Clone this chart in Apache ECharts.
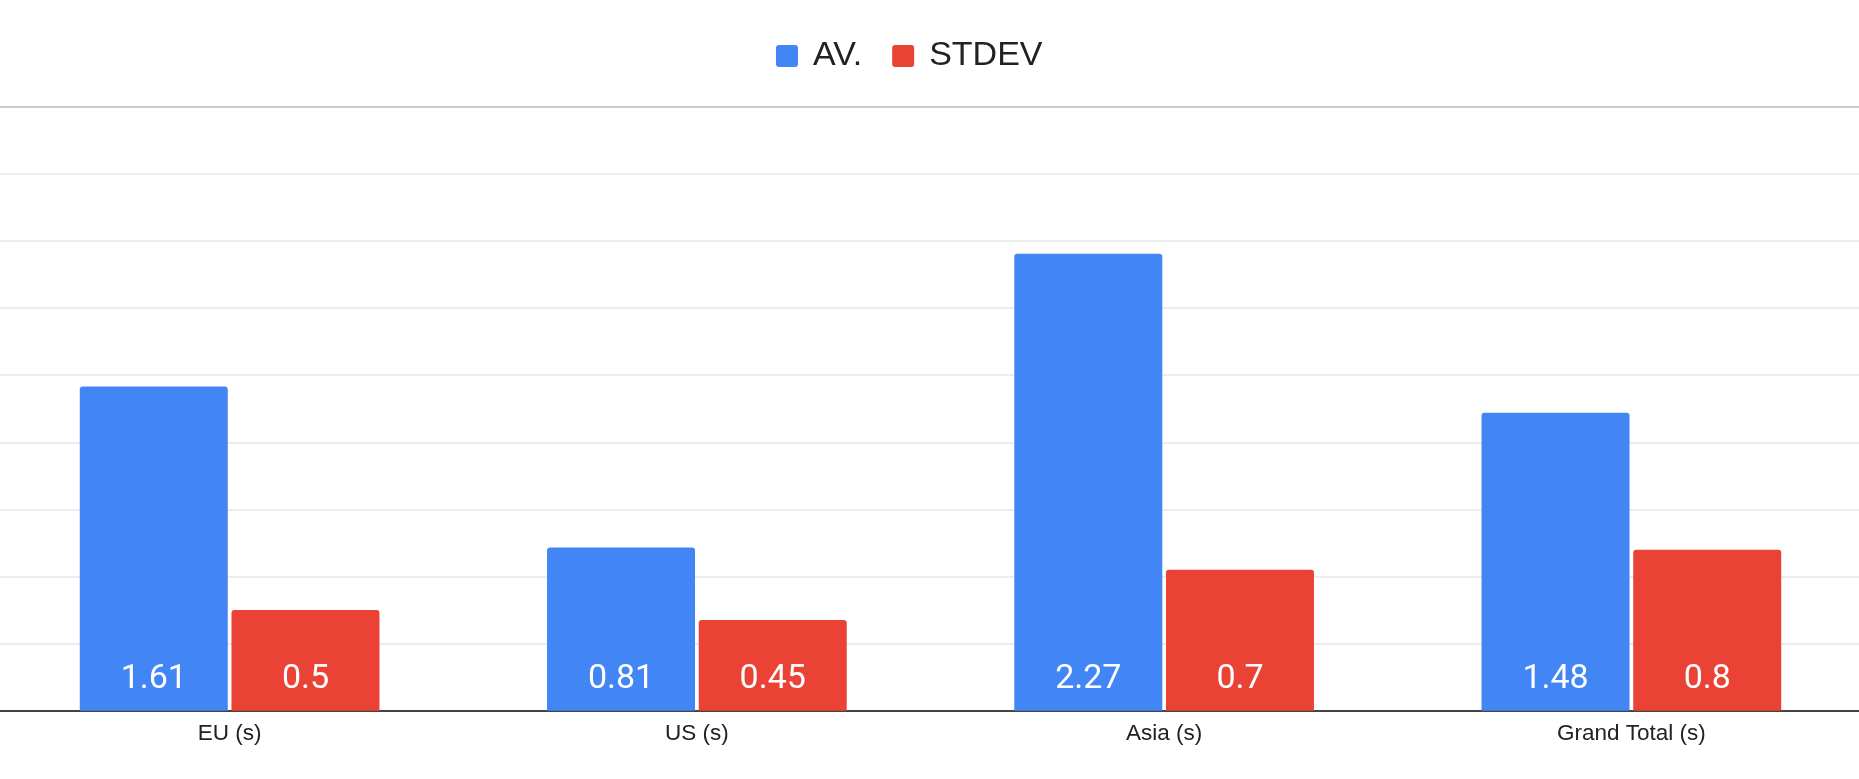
<!DOCTYPE html>
<html>
<head>
<meta charset="utf-8">
<script src="https://cdn.jsdelivr.net/npm/echarts@6/dist/echarts.min.js"></script>
<style>
html,body{margin:0;padding:0;background:#fff;overflow:hidden;width:1859px;height:779px;}
#chart{width:1869px;height:779px;margin-left:-4px;}
</style>
</head>
<body>
<div id="chart"></div>
<script>
const categories = ['EU (s)', 'US (s)', 'Asia (s)', 'Grand Total (s)'];
const avValues = [1.61, 0.81, 2.27, 1.48];
const stdevValues = [0.5, 0.45, 0.7, 0.8];
const seriesNames = ['AV.', 'STDEV'];

const chart = echarts.init(document.getElementById('chart'));
const gridColors = [];
for (let i = 0; i < 9; i++) gridColors.push('#e6e6e6');
gridColors.push('#cccccc');

const labelCfg = {
  show: true,
  position: 'insideBottom',
  distance: 14,
  color: '#ffffff',
  fontFamily: 'Roboto',
  fontSize: 34
};

const iconPath = 'path://M3,0 H19 A3,3 0 0 1 22,3 V19 A3,3 0 0 1 19,22 H3 A3,3 0 0 1 0,19 V3 A3,3 0 0 1 3,0 Z';

chart.setOption({
  animation: false,
  backgroundColor: '#ffffff',
  legend: {
    top: 34,
    left: 775,
    icon: iconPath,
    itemWidth: 22,
    itemHeight: 22,
    itemGap: 30,
    textStyle: { fontFamily: 'Liberation Sans', fontSize: 34, color: '#222222', padding: [0, 0, 0, 10] },
    data: seriesNames
  },
  grid: { left: 0, right: 0, top: 106.7, bottom: 68.3, containLabel: false },
  xAxis: [{
    type: 'category',
    data: categories,
    axisLine: { lineStyle: { color: '#444444', width: 2 } },
    axisTick: { show: false },
    axisLabel: { color: '#222222', fontFamily: 'Liberation Sans', fontSize: 22.5, margin: 12 }
  }, {
    type: 'category',
    data: categories,
    position: 'top',
    axisLine: { show: true, lineStyle: { color: '#cccccc', width: 2 } },
    axisTick: { show: false },
    axisLabel: { show: false }
  }],
  yAxis: {
    type: 'value',
    min: 0,
    max: 3,
    interval: 1 / 3,
    axisLabel: { show: false },
    axisLine: { show: false },
    axisTick: { show: false },
    splitLine: { lineStyle: { color: gridColors, width: 1.5 } }
  },
  series: [{
    name: seriesNames[0],
    type: 'bar',
    data: avValues,
    barWidth: 148,
    barGap: '2.5%',
    itemStyle: { color: '#4285F4', borderRadius: [3, 3, 0, 0] },
    label: labelCfg
  }, {
    name: seriesNames[1],
    type: 'bar',
    data: stdevValues,
    barWidth: 148,
    barGap: '2.5%',
    itemStyle: { color: '#EA4335', borderRadius: [3, 3, 0, 0] },
    label: labelCfg
  }]
});
</script>
</body>
</html>
